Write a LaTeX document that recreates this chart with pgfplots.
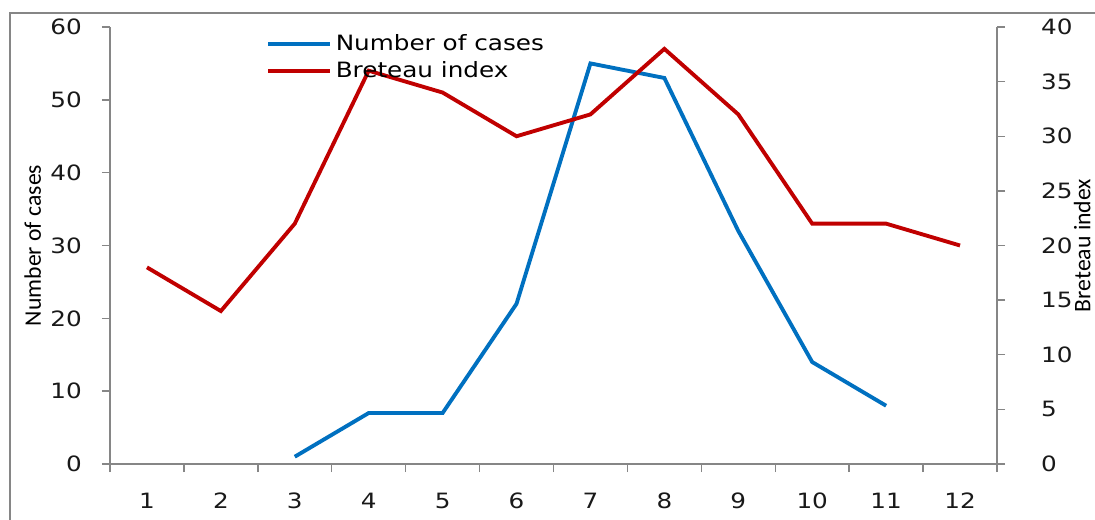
\documentclass[border=0pt]{standalone}
\usepackage{fontspec}
\setmainfont[FakeStretch=1.17]{DejaVu Sans}
\newfontfamily\labfont{Carlito}
\usepackage{pgfplots}
\pgfplotsset{compat=1.18}

\definecolor{cases}{RGB}{0,112,192}
\definecolor{bi}{RGB}{192,0,0}
\definecolor{axgray}{RGB}{134,134,134}

\pgfplotsset{
  common/.style={
    scale only axis, width=17.74cm, height=8.74cm,
    xmin=0.5, xmax=12.5,
    tick align=outside, major tick length=0.16cm,
    axis line style={axgray, line width=0.8pt},
    tick style={axgray, line width=0.8pt},
    ticklabel style={font=\fontsize{12}{14}\selectfont, text=black!90},
    /pgf/number format/assume math mode=true,
    label style={font=\labfont\fontsize{13.5}{15}\selectfont, text=black},
  }
}

\begin{document}
\begin{tikzpicture}
\begin{axis}[common,
    axis x line*=bottom, axis y line*=left,
    ymin=0, ymax=60, ytick={0,10,...,60},
    xtick={1,...,12},
    minor xtick={0.5,1.5,...,12.5},
    major x tick style={draw=none},
    minor tick length=0.16cm,
    yticklabel style={xshift=-0.28cm},
    xticklabel style={yshift=-0.3cm},
    ylabel={Number of cases},
    ylabel style={at={(rel axis cs:-0.087,0.5)}, anchor=center},
  ]
  \addplot[cases, line width=2.2pt] coordinates {
    (3,1) (4,7) (5,7) (6,22) (7,55) (8,53) (9,32) (10,14) (11,8)
  };
\end{axis}
\begin{axis}[common,
    axis y line*=right, axis x line=none,
    ymin=0, ymax=40, ytick={0,5,...,40},
    yticklabel style={xshift=0.6cm},
    ylabel={Breteau index},
    ylabel style={at={(rel axis cs:1.096,0.5)}, anchor=center},
    legend style={at={(rel axis cs:0.17,1.0)}, anchor=north west,
      draw=none, fill=none, font=\fontsize{12}{14}\selectfont, row sep=1pt},
    legend cell align=left,
    legend image code/.code={\draw[#1] (0cm,0cm) -- (1.24cm,0cm);},
  ]
  \addlegendimage{cases, line width=2.2pt}
  \addlegendentry{Number of cases}
  \addplot[bi, line width=2.2pt] coordinates {
    (1,18) (2,14) (3,22) (4,36) (5,34) (6,30) (7,32) (8,38) (9,32) (10,22) (11,22) (12,20)
  };
  \addlegendentry{Breteau index}
  \coordinate (bbl) at (rel axis cs:-0.124,-0.1281);
  \coordinate (btr) at (rel axis cs:1.1105,1.0618);
  \coordinate (fbl) at (rel axis cs:-0.1127,-0.2);
  \coordinate (ftr) at (rel axis cs:1.2,1.032);
\end{axis}
\pgfresetboundingbox
\path[use as bounding box] (bbl) rectangle (btr);
\draw[axgray, line width=1.2pt] (fbl) |- (ftr);
\end{tikzpicture}
\end{document}
